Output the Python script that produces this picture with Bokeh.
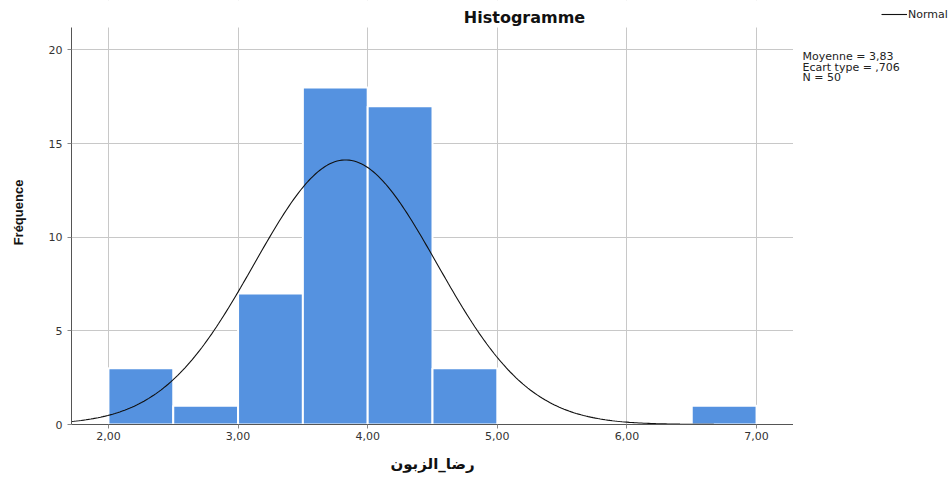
import numpy as np
from bokeh.plotting import figure
from bokeh.layouts import row
from bokeh.models import FixedTicker, Range1d, Legend, LegendItem, Label
from bokeh.embed import file_html
from bokeh.resources import INLINE

# Data
bin_left = [2.0, 2.5, 3.0, 3.5, 4.0, 4.5, 6.5]
bin_right = [2.5, 3.0, 3.5, 4.0, 4.5, 5.0, 7.0]
counts = [3, 1, 7, 18, 17, 3, 1]
mean = 3.83
std = 0.706
n = 50
bin_width = 0.5
x_ticks = [2, 3, 4, 5, 6, 7]
x_tick_labels = ["2,00", "3,00", "4,00", "5,00", "6,00", "7,00"]
y_ticks = [0, 5, 10, 15, 20]
stats = ["Moyenne = 3,83", "Ecart type = ,706", "N = 50"]

SMALL_FONT = "DejaVu Sans"
H = 477
X0, X1 = 1.715, 7.285      # visible x domain
Y_AXIS_TOP = 21.2          # top of the plotted area
Y_TOP = 22.64              # extra headroom inside the frame for the title

p = figure(width=793, height=H, output_backend="svg", toolbar_location=None,
           x_range=Range1d(X0, X1), y_range=Range1d(0, Y_TOP),
           min_border_left=71, min_border_right=0, min_border_top=0,
           min_border_bottom=53, title=None)
p.outline_line_color = None
p.background_fill_color = "white"
p.border_fill_color = "white"

p.quad(left=bin_left, right=bin_right, bottom=0, top=counts,
       fill_color="#5592E0", line_color="white", line_width=2)

xs = np.linspace(X0, X1, 300)
ys = n * bin_width * np.exp(-0.5 * ((xs - mean) / std) ** 2) / (std * np.sqrt(2 * np.pi))
p.line(xs, ys, line_color="#111111", line_width=1.1)

# white mask over the headroom so grid lines stop at the plot top
p.quad(left=[X0], right=[X1], bottom=[Y_AXIS_TOP], top=[Y_TOP],
       fill_color="white", line_color=None)

p.add_layout(Label(x=5.21, y=21.73, text="Histogramme", text_align="center",
                   text_baseline="middle", text_font="DejaVu Sans",
                   text_font_style="bold", text_font_size="16px",
                   text_color="#111111"))

# axes
p.xaxis.ticker = FixedTicker(ticks=x_ticks)
p.xaxis.major_label_overrides = {t: l for t, l in zip(x_ticks, x_tick_labels)}
p.yaxis.ticker = FixedTicker(ticks=y_ticks)
p.yaxis.bounds = (0, Y_AXIS_TOP)
for ax in (p.xaxis, p.yaxis):
    ax.major_label_text_font = SMALL_FONT
    ax.major_label_text_font_size = "11px"
    ax.major_label_text_color = "#333333"
    ax.axis_line_color = "#555555"
    ax.major_tick_line_color = "#888888"
    ax.major_tick_out = 4
    ax.major_tick_in = 0
    ax.minor_tick_line_color = None
    ax.axis_label_text_font_style = "bold"
    ax.axis_label_text_color = "#111111"
p.xaxis.major_label_standoff = 3
p.yaxis.major_label_standoff = 5

p.xaxis.axis_label = "رضا_الزبون"
p.xaxis.axis_label_text_font = "DejaVu Sans"
p.xaxis.axis_label_text_font_size = "15px"
p.xaxis.axis_label_standoff = 12
p.yaxis.axis_label = "Fréquence"
p.yaxis.axis_label_text_font = "Liberation Sans"
p.yaxis.axis_label_text_font_size = "13px"
p.yaxis.axis_label_standoff = 20

p.xgrid.grid_line_color = "#c8c8c8"
p.ygrid.grid_line_color = "#c8c8c8"
p.xgrid.ticker = FixedTicker(ticks=x_ticks)
p.ygrid.ticker = FixedTicker(ticks=y_ticks)

# right-hand side panel: legend + statistics (pixel-like coordinates, y down)
W2 = 157
FRAME_BOTTOM = 424
side = figure(width=W2, height=H, output_backend="svg", toolbar_location=None,
              x_range=Range1d(0, W2), y_range=Range1d(FRAME_BOTTOM, 0),
              min_border=0, min_border_bottom=53, title=None)
side.axis.visible = False
side.grid.visible = False
side.outline_line_color = None
side.background_fill_color = "white"
side.border_fill_color = "white"

# legend key renderer kept outside the visible area
key = side.line([-20, -10], [-20, -20], line_color="#111111", line_width=1.1)
legend = Legend(items=[LegendItem(label="Normal", renderers=[key])],
                location=(88, FRAME_BOTTOM - 20.5), padding=0, margin=0, spacing=0,
                glyph_width=26, glyph_height=12, label_height=12,
                label_standoff=1, border_line_color=None,
                background_fill_alpha=0, label_text_font=SMALL_FONT,
                label_text_font_size="11px", label_text_color="#222222")
side.add_layout(legend)

stat_y = [56, 66.5, 77]
for s, yy in zip(stats, stat_y):
    side.add_layout(Label(x=9, y=yy, text=s, text_align="left",
                          text_baseline="middle", text_font=SMALL_FONT,
                          text_font_size="11px", text_color="#222222"))

layout = row(p, side, spacing=0)
open("out.html", "w").write(file_html(layout, INLINE))
